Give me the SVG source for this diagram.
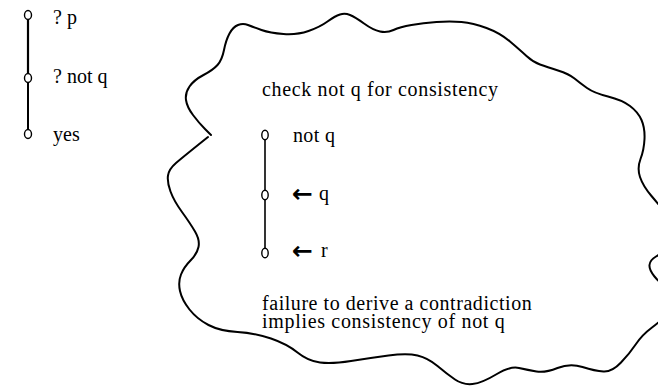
<svg xmlns="http://www.w3.org/2000/svg" width="658" height="388" viewBox="0 0 658 388">
<style>
text{font-family:"Liberation Serif","Times New Roman",serif;font-size:20px;fill:#000}
.n{fill:#fff;stroke:#000;stroke-width:1.4}
.e{stroke:#000;fill:none}
.cloud{fill:none;stroke:#000;stroke-width:2;stroke-linejoin:round;stroke-linecap:round}
.arr{font-family:"DejaVu Sans",sans-serif;font-size:25px;font-weight:bold}
</style>
<rect width="658" height="388" fill="#fff"/>
<g id="cloud">
<path class="cloud" d="M208,137 Q183,157 176,163 Q169,169 168,175.5 Q167,182 170.5,191.5 Q174,201 182,212 Q190,223 195,231.5 Q200,240 198.5,247 Q197,254 190.5,260.5 Q184,267 181,274.5 Q178,282 180,291 Q182,300 189.5,309.5 Q197,319 208.5,325 Q220,331 237.5,332 Q255,333 271,338.5 Q287,344 297.5,352.5 Q308,361 320,362.5 Q332,364 351,361 Q370,358 388.5,355.5 Q407,353 417.5,355.5 Q428,358 437.5,366 Q447,374 455,379.5 Q463,385 472.5,384 Q482,383 496,374.5 Q510,366 519,368 Q528,370 536.5,371.5 Q545,373 557.5,368 Q570,363 582.5,367 Q595,371 603.5,371.5 Q612,372 621,362.5 Q630,353 636,344 Q642,335 652,327.5 Q662,320 671,310 Q680,300 670,291.5 Q660,283 654.5,276.5 Q649,270 649.5,265 Q650,260 656,256.5 Q662,253 671,241.5 Q680,230 670,218 Q660,206 651.5,196 Q643,186 640,177 Q637,168 640.5,159 Q644,150 644.5,139 Q645,128 641.5,120 Q638,112 630,106 Q622,100 608,96.5 Q594,93 587,88 Q580,83 574.5,78.5 Q569,74 558,70.5 Q547,67 540,64.5 Q533,62 526.5,56 Q520,50 510,41.5 Q500,33 486.5,28 Q473,23 461.5,22 Q450,21 436.5,22 Q423,23 411.5,25 Q400,27 393.5,30 Q387,33 380,31.5 Q373,30 364,23.5 Q355,17 350,15 Q345,13 340,14.5 Q335,16 327.5,21.5 Q320,27 308.5,31 Q297,35 283.5,34 Q270,33 261.5,30 Q253,27 248,25 Q243,23 238,25 Q233,27 229.5,33.5 Q226,40 224,50 Q222,60 217.5,65 Q213,70 203.5,75 Q194,80 189.5,86.5 Q185,93 186,100 Q187,107 193,115 Q199,123 205,129 L211,135"/>
</g>
<g id="connectors">
<line class="e" x1="28" y1="19.5" x2="28" y2="73.5" stroke-width="2.2"/>
<line class="e" x1="28" y1="82.5" x2="28" y2="129.5" stroke-width="2"/>
<line class="e" x1="265" y1="140" x2="265" y2="190.5" stroke-width="1.6"/>
<line class="e" x1="265" y1="199.5" x2="265" y2="248.5" stroke-width="1.6"/>
</g>
<g id="node-p"><ellipse class="n" cx="28" cy="15" rx="3.5" ry="4.5"/><text x="53" y="24">? p</text></g>
<g id="node-notq"><ellipse class="n" cx="28" cy="78" rx="3.5" ry="4.5"/><text x="53" y="83">? not q</text></g>
<g id="node-yes"><ellipse class="n" cx="28" cy="134" rx="3.5" ry="4.5"/><text x="53" y="141">yes</text></g>
<g id="title"><text x="262" y="96" textLength="236" lengthAdjust="spacing">check not q for consistency</text></g>
<g id="inner-notq"><ellipse class="n" cx="265" cy="135" rx="3.2" ry="4.8"/><text x="293" y="142" textLength="42" lengthAdjust="spacing">not q</text></g>
<g id="inner-q"><ellipse class="n" cx="265" cy="195" rx="3.2" ry="4.8"/><text><tspan class="arr" x="292" y="202">←</tspan><tspan x="319" y="200">q</tspan></text></g>
<g id="inner-r"><ellipse class="n" cx="265" cy="253" rx="3.2" ry="4.8"/><text><tspan class="arr" x="292" y="259">←</tspan><tspan x="321" y="257">r</tspan></text></g>
<g id="conclusion">
<text><tspan x="262" y="310" letter-spacing="0.55">failure to derive a contradiction</tspan><tspan x="262" y="328" letter-spacing="0.68">implies consistency of not q</tspan></text>
</g>
</svg>
